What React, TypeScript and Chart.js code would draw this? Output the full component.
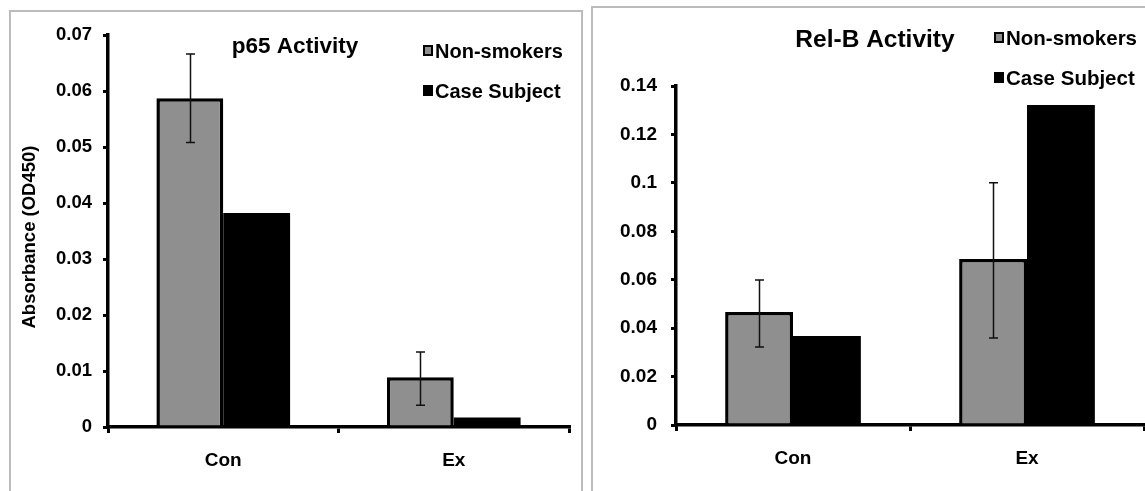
import React, { useEffect, useRef } from "react";
import { Chart, registerables } from "chart.js";

Chart.register(...registerables);

const categories = ["Con", "Ex"];
const legendLabels = ["Non-smokers", "Case Subject"];

const p65NonSmokers = [0.0587, 0.0089];
const p65NonSmokersErrLow = [0.0508, 0.0039];
const p65NonSmokersErrHigh = [0.0666, 0.0134];
const p65CaseSubject = [0.0382, 0.0017];
const p65Ticks = [0, 0.01, 0.02, 0.03, 0.04, 0.05, 0.06, 0.07];

const relBNonSmokers = [0.0467, 0.0686];
const relBNonSmokersErrLow = [0.0322, 0.0359];
const relBNonSmokersErrHigh = [0.0599, 0.1];
const relBCaseSubject = [0.0368, 0.1322];
const relBTicks = [0, 0.02, 0.04, 0.06, 0.08, 0.1, 0.12, 0.14];

const FONT = "'Liberation Sans', Arial, Helvetica, sans-serif";
const GRAY = "#8f8f8f";

type PanelProps = {
  title: string;
  nonSmokers: number[];
  errLow: number[];
  errHigh: number[];
  caseSubject: number[];
  ticks: number[];
  yTitle?: string;
  canvasLeft: number;
  canvasWidth: number;
  area: { left: number; top: number; right: number; bottom: number };
  titlePos: { x: number; y: number; size: number };
  legendPos: { x: number; y: number; gap: number; size: number };
  yTitlePos?: { x: number; y: number };
  tickSize: number;
  tickPadding: number;
};

function BarPanel(props: PanelProps) {
  const ref = useRef<HTMLCanvasElement | null>(null);
  useEffect(() => {
    if (!ref.current) return;
    const H = 491;
    const decor = {
      id: "decor",
      afterDatasetsDraw(chart: any) {
        const ctx = chart.ctx;
        const y = chart.scales.y;
        const meta = chart.getDatasetMeta(0);
        ctx.save();
        // error bars
        ctx.strokeStyle = "#111";
        ctx.lineWidth = 1.5;
        meta.data.forEach((bar: any, i: number) => {
          const x = Math.round(bar.x) + 0.5;
          const yl = y.getPixelForValue(props.errLow[i]);
          const yh = y.getPixelForValue(props.errHigh[i]);
          ctx.beginPath();
          ctx.moveTo(x, yl);
          ctx.lineTo(x, yh);
          ctx.moveTo(x - 4.5, yl);
          ctx.lineTo(x + 4.5, yl);
          ctx.moveTo(x - 4.5, yh);
          ctx.lineTo(x + 4.5, yh);
          ctx.stroke();
        });
        // title
        ctx.fillStyle = "#000";
        ctx.font = `bold ${props.titlePos.size}px ${FONT}`;
        ctx.textAlign = "center";
        ctx.textBaseline = "alphabetic";
        ctx.fillText(props.title, props.titlePos.x, props.titlePos.y);
        // legend
        ctx.font = `bold ${props.legendPos.size}px ${FONT}`;
        ctx.textAlign = "left";
        const lx = props.legendPos.x;
        const ly = props.legendPos.y;
        const g = props.legendPos.gap;
        ctx.fillStyle = "#000";
        ctx.fillRect(lx, ly - 13, 10, 11);
        ctx.fillStyle = GRAY;
        ctx.fillRect(lx + 2, ly - 11, 6, 7);
        ctx.fillStyle = "#000";
        ctx.fillText(legendLabels[0], lx + 12, ly);
        ctx.fillRect(lx, ly + g - 13, 10, 11);
        ctx.fillText(legendLabels[1], lx + 12, ly + g);
        // y title
        if (props.yTitle && props.yTitlePos) {
          ctx.translate(props.yTitlePos.x, props.yTitlePos.y);
          ctx.rotate(-Math.PI / 2);
          ctx.font = `bold 18.5px ${FONT}`;
          ctx.textAlign = "center";
          ctx.textBaseline = "alphabetic";
          ctx.fillText(props.yTitle, 0, 0);
        }
        ctx.restore();
      },
    };
    const chart = new Chart(ref.current, {
      type: "bar",
      data: {
        labels: categories,
        datasets: [
          {
            label: legendLabels[0],
            data: props.nonSmokers,
            backgroundColor: GRAY,
            borderColor: "#000",
            borderWidth: 3.5,
          },
          {
            label: legendLabels[1],
            data: props.caseSubject,
            backgroundColor: "#000",
            borderColor: "#000",
            borderWidth: 0,
          },
        ],
      },
      options: {
        animation: false,
        responsive: false,
        maintainAspectRatio: false,
        categoryPercentage: 0.58,
        barPercentage: 1.0,
        layout: {
          padding: {
            left: 0,
            top: props.area.top,
            right: props.canvasWidth - props.area.right,
            bottom: 0,
          },
        },
        plugins: {
          legend: { display: false },
          tooltip: { enabled: false },
          title: { display: false },
        },
        scales: {
          x: {
            grid: {
              offset: true,
              drawOnChartArea: false,
              drawTicks: true,
              tickLength: 6,
              color: "#000",
              lineWidth: 3,
            },
            border: { display: true, color: "#000", width: 3.5 },
            ticks: {
              color: "#000",
              font: { family: FONT, size: 19, weight: "bold" },
              padding: 16,
            },
            afterFit: (s: any) => {
              s.height = H - props.area.bottom;
            },
          },
          y: {
            min: 0,
            max: props.ticks[props.ticks.length - 1],
            afterBuildTicks: (s: any) => {
              s.ticks = props.ticks.map((v) => ({ value: v }));
            },
            grid: {
              drawOnChartArea: false,
              drawTicks: true,
              tickLength: 5,
              color: "#000",
              lineWidth: 3,
            },
            border: { display: true, color: "#000", width: 3.5 },
            ticks: {
              color: "#000",
              font: { family: FONT, size: props.tickSize, weight: "bold" },
              padding: props.tickPadding,
              callback: (v: any) => String(Number(Number(v).toFixed(2))),
            },
            afterFit: (s: any) => {
              s.width = props.area.left;
            },
          },
        },
      },
      plugins: [decor],
    });
    return () => chart.destroy();
  }, []);
  return (
    <canvas
      ref={ref}
      width={props.canvasWidth}
      height={491}
      style={{
        position: "absolute",
        left: props.canvasLeft,
        top: 0,
        width: props.canvasWidth,
        height: 491,
      }}
    />
  );
}

export default function App() {
  return (
    <div
      style={{
        position: "fixed",
        left: 0,
        top: 0,
        width: 1145,
        height: 491,
        background: "#fff",
        overflow: "hidden",
      }}
    >
      <div
        style={{
          position: "absolute",
          left: 9,
          top: 10,
          width: 574,
          height: 500,
          border: "2px solid #bcbcbc",
          boxSizing: "border-box",
        }}
      />
      <div
        style={{
          position: "absolute",
          left: 591,
          top: 6,
          width: 570,
          height: 500,
          border: "2px solid #bcbcbc",
          boxSizing: "border-box",
        }}
      />
      <BarPanel
        title="p65 Activity"
        nonSmokers={p65NonSmokers}
        errLow={p65NonSmokersErrLow}
        errHigh={p65NonSmokersErrHigh}
        caseSubject={p65CaseSubject}
        ticks={p65Ticks}
        yTitle="Absorbance (OD450)"
        canvasLeft={0}
        canvasWidth={580}
        area={{ left: 108, top: 35, right: 569, bottom: 427 }}
        titlePos={{ x: 295, y: 53, size: 22.5 }}
        legendPos={{ x: 423, y: 58, gap: 40, size: 20 }}
        yTitlePos={{ x: 35, y: 237 }}
        tickSize={18.5}
        tickPadding={11}
      />
      <BarPanel
        title="Rel-B Activity"
        nonSmokers={relBNonSmokers}
        errLow={relBNonSmokersErrLow}
        errHigh={relBNonSmokersErrHigh}
        caseSubject={relBCaseSubject}
        ticks={relBTicks}
        canvasLeft={580}
        canvasWidth={565}
        area={{ left: 96, top: 86, right: 564, bottom: 425 }}
        titlePos={{ x: 295, y: 47, size: 24.5 }}
        legendPos={{ x: 414, y: 45, gap: 40, size: 20.5 }}
        tickSize={19}
        tickPadding={14}
      />
    </div>
  );
}
